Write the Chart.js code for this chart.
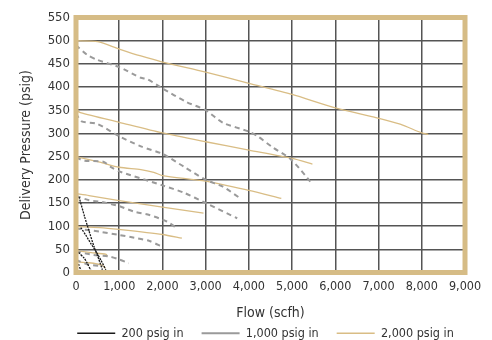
<!DOCTYPE html>
<html>
<head>
<meta charset="utf-8">
<script src="https://cdn.jsdelivr.net/npm/chart.js@4/dist/chart.umd.min.js"></script>
<style>
  html, body { margin: 0; padding: 0; background: #ffffff; }
  #wrap { width: 492px; height: 340px; }
</style>
</head>
<body>
<div id="wrap"><canvas id="c" width="492" height="340"></canvas></div>
<script>
// ---- Data (flow in scfh, delivery pressure in psig) ----
const xTicks = [0, 1000, 2000, 3000, 4000, 5000, 6000, 7000, 8000, 9000];
const yTicks = [0, 50, 100, 150, 200, 250, 300, 350, 400, 450, 500, 550];
const seriesNames = ['200 psig in', '1,000 psig in', '2,000 psig in'];

// 2,000 psig inlet curves
const s2000_500 = [[0,500],[500,498],[1000,482],[1500,467],[2000,454],[3000,432],[4000,408],[5000,384],[6000,355],[6900,335],[7500,320],[8000,301],[8150,298]];
const s2000_350 = [[0,350],[100,345],[1000,324],[2000,301],[3000,282],[4000,264],[5000,246],[5470,234]];
const s2000_250 = [[0,250],[550,238],[1000,227],[1500,222],[1800,216],[2000,209],[3000,197],[4000,177],[4750,160]];
const s2000_170 = [[0,170],[300,166],[1000,155],[2000,141],[2950,128]];
const s2000_100 = [[0,99],[550,97],[1000,93],[2000,82],[2450,74]];
const s2000_45  = [[0,47],[350,43],[700,39],[720,35]];
const s2000_20  = [[0,23],[300,21],[600,16],[680,9]];

// 1,000 psig inlet curves
const s1000_490 = [[0,490],[250,470],[480,459],[1000,443],[1500,420],[1650,417],[2000,397],[2550,368],[3000,350],[3400,323],[4000,304],[4200,294],[4550,270],[4950,246],[5300,210],[5420,196]];
const s1000_340 = [[0,343],[130,326],[480,321],[1000,294],[1500,272],[2000,256],[2500,228],[3000,200],[3400,185],[3800,160]];
const s1000_245 = [[0,248],[200,241],[630,239],[800,228],[1000,218],[2000,188],[2500,172],[3000,150],[3730,117]];
const s1000_165 = [[0,165],[300,156],[600,152],[1000,143],[1350,131],[1700,124],[2100,110],[2330,96]];
const s1000_100 = [[0,95],[550,88],[1000,81],[1350,75],[1700,68],[2000,55]];
const s1000_45  = [[0,45],[400,38],[800,34],[1000,28],[1220,20]];
const s1000_25  = [[0,27],[300,17],[620,14]];

// 200 psig inlet curves
const s200_165 = [[70,163],[200,120],[300,90],[420,55],[530,28],[610,6]];
const s200_100 = [[110,97],[230,80],[340,63],[460,46],[580,26],[690,6]];
const s200_45  = [[60,43],[190,31],[260,20],[340,5]];
const s200_20  = [[60,18],[110,5]];

const curves200  = [s200_165, s200_100, s200_45, s200_20];
const curves1000 = [s1000_490, s1000_340, s1000_245, s1000_165, s1000_100, s1000_45, s1000_25];
const curves2000 = [s2000_500, s2000_350, s2000_250, s2000_170, s2000_100, s2000_45, s2000_20];

// ---- Styles ----
const FONT = "'DejaVu Sans Condensed', 'DejaVu Sans', sans-serif";
const TAN = '#d9bd85';
const BORDER_TAN = '#d6bc86';
const GRAY = '#9a9a9a';
const BLACK = '#1a1a1a';
const TEXT = '#333333';

function toPts(arr) { return arr.map(p => ({ x: p[0], y: p[1] })); }

const datasets = [];
curves2000.forEach((c, i) => datasets.push({
  label: i === 0 ? seriesNames[2] : '',
  data: toPts(c), borderColor: TAN, backgroundColor: TAN,
  borderWidth: 1.3, pointRadius: 0, tension: 0.25, fill: false, order: 3
}));
curves1000.forEach((c, i) => datasets.push({
  label: i === 0 ? seriesNames[1] : '',
  data: toPts(c), borderColor: GRAY, backgroundColor: GRAY,
  borderWidth: 2, borderDash: [5, 4], pointRadius: 0, tension: 0.25, fill: false, order: 2
}));
curves200.forEach((c, i) => datasets.push({
  label: i === 0 ? seriesNames[0] : '',
  data: toPts(c), borderColor: BLACK, backgroundColor: BLACK,
  borderWidth: 1.3, borderDash: [2, 1], pointRadius: 0, tension: 0.2, fill: false, order: 1
}));

const legendOrder = { '200 psig in': 0, '1,000 psig in': 1, '2,000 psig in': 2 };

const frame = {
  id: 'frame',
  afterLayout(chart) {
    const lg = chart.legend;
    if (lg) {
      lg.left += 33; lg.right += 33;
      lg.top -= 13; lg.bottom = 340; lg.height = lg.bottom - lg.top;
    }
  },
  afterDatasetsDraw(chart) {
    const a = chart.chartArea, ctx = chart.ctx;
    ctx.save();
    ctx.strokeStyle = BORDER_TAN;
    ctx.lineWidth = 5;
    ctx.strokeRect(a.left, a.top, a.right - a.left, a.bottom - a.top);
    ctx.restore();
  }
};

new Chart(document.getElementById('c'), {
  type: 'line',
  data: { datasets },
  plugins: [frame],
  options: {
    responsive: false,
    animation: false,
    devicePixelRatio: 1,
    layout: { padding: { left: 0, right: 27, top: 17.5, bottom: 0 } },
    plugins: {
      tooltip: { enabled: false },
      legend: {
        position: 'bottom',
        maxHeight: 18,
        labels: {
          font: { family: FONT, size: 12.5 },
          color: TEXT,
          usePointStyle: true,
          pointStyle: 'line',
          pointStyleWidth: 38,
          boxHeight: 12,
          padding: 18,
          filter: item => item.text !== '',
          sort: (a, b) => legendOrder[a.text] - legendOrder[b.text]
        }
      }
    },
    scales: {
      x: {
        type: 'linear', min: 0, max: 9000,
        afterBuildTicks: s => { s.ticks = xTicks.map(v => ({ value: v })); },
        afterFit: s => { const lh = s.chart.legend ? s.chart.legend.height : 0; s.height = Math.max(30, 340 - 272.5 - lh); },
        grid: { color: '#555', lineWidth: 1.5, drawTicks: false },
        border: { display: false },
        ticks: {
          padding: 7, color: TEXT, maxRotation: 0,
          font: { family: FONT, size: 12.5 },
          callback: v => v.toLocaleString('en-US')
        },
        title: { display: true, text: 'Flow (scfh)', color: TEXT, font: { family: FONT, size: 14 }, padding: { top: 2, bottom: 0 } }
      },
      y: {
        type: 'linear', min: 0, max: 550,
        afterBuildTicks: s => { s.ticks = yTicks.map(v => ({ value: v })); },
        afterFit: s => { s.width = 76; },
        grid: { color: '#555', lineWidth: 1.5, drawTicks: false },
        border: { display: false },
        ticks: { padding: 6, color: TEXT, font: { family: FONT, size: 13 } },
        title: { display: true, text: 'Delivery Pressure (psig)', color: TEXT, font: { family: FONT, size: 14 }, padding: { top: 18, bottom: 0 } }
      }
    }
  }
});
</script>
</body>
</html>
